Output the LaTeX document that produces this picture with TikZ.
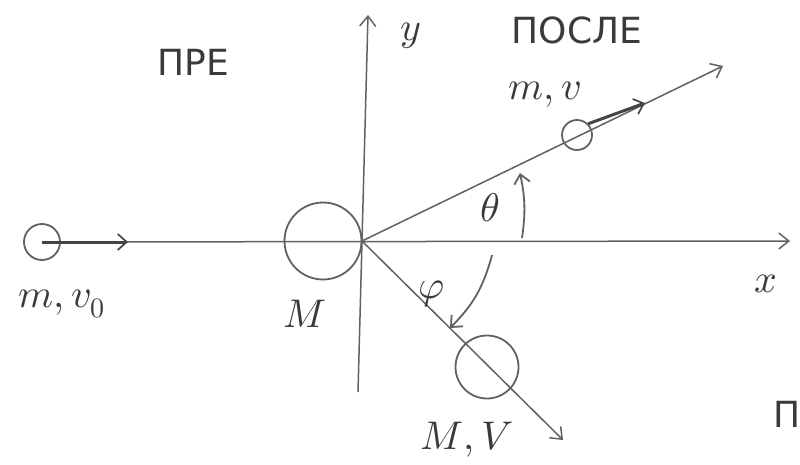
\documentclass[tikz,border=0pt]{standalone}
\usepackage{fontspec}
\usepackage{unicode-math}
\setmathfont{Latin Modern Math}
\usetikzlibrary{arrows.meta}
\newfontfamily\cyrfont{DejaVu Sans}
\definecolor{pencil}{gray}{0.38}

\begin{document}
\begin{tikzpicture}[
		x=1pt, y=-1pt,
		axis/.style={draw=pencil, line width=1.5pt, -{Straight Barb[length=10pt,width=16pt]}},
		ball/.style={circle, draw=pencil, line width=1.8pt, inner sep=0pt},
		vel/.style={draw=pencil!70!black, line width=3pt, -{Straight Barb[length=9pt,width=16pt,line width=1.7pt]}},
		turn/.style={draw=pencil, line width=1.8pt, -{Straight Barb[length=9pt,width=16pt]}},
		lbl/.style={text=pencil!60!black, font=\fontsize{40}{44}\selectfont},
		cyr/.style={text=pencil!60!black, font=\cyrfont\fontsize{36}{40}\selectfont}
	]
	\useasboundingbox (0,0) rectangle (800,465);

	% axes and directions
	\coordinate (O) at (362,241);
	\coordinate (xend) at (790,241);
	\coordinate (ybot) at (358,392);
	\coordinate (yend) at (368,15);
	\coordinate (upend) at (723,66);
	\coordinate (lowend) at (563,440);

	% balls
	\node[ball, minimum size=36pt] (m0) at (42,242) {};
	\node[ball, minimum size=77pt] (M) at (323,241) {};
	\node[ball, minimum width=30pt, minimum height=27pt] (m1) at (577,135) {};
	\node[ball, minimum size=63pt] (M1) at (487,367) {};

	\coordinate (v0tip) at (128,242);
	\coordinate (vtip) at (645,103);

	\draw[axis] (m0.east) -- (xend);
	\draw[axis] (ybot) -- (yend);
	\draw[axis] (O) -- (upend);
	\draw[axis] (O) -- (lowend);

	\draw[vel] (m0.center) -- (v0tip);
	\draw[vel] (m1.north east) -- (vtip);

	% angles
	\coordinate (th1) at (522,238);
	\coordinate (th2) at (520,173);
	\coordinate (ph1) at (492,255);
	\coordinate (ph2) at (450,328);
	\draw[turn] (th1) to[bend right=10] (th2);
	\draw[turn] (ph1) to[bend left=15] (ph2);

	% labels
	\node[cyr] (pre) at (193,62) {ПРЕ};
	\node[cyr] (posle) at (577,30) {ПОСЛЕ};
	\node[cyr] (pcut) at (787,414) {П};
	\node[lbl] (ylbl) at (411,36) {$y$};
	\node[lbl] (xlbl) at (766,284) {$x$};
	\node[lbl] (m0lbl) at (62,304) {$m,v_0$};
	\node[lbl] (Mlbl) at (305,314) {$M$};
	\node[lbl] (m1lbl) at (545,95) {$m,v$};
	\node[lbl] (M1lbl) at (467,440) {$M,V$};
	\node[lbl] (thlbl) at (490,208) {$\theta$};
	\node[lbl] (phlbl) at (432,294) {$\varphi$};
\end{tikzpicture}
\end{document}
